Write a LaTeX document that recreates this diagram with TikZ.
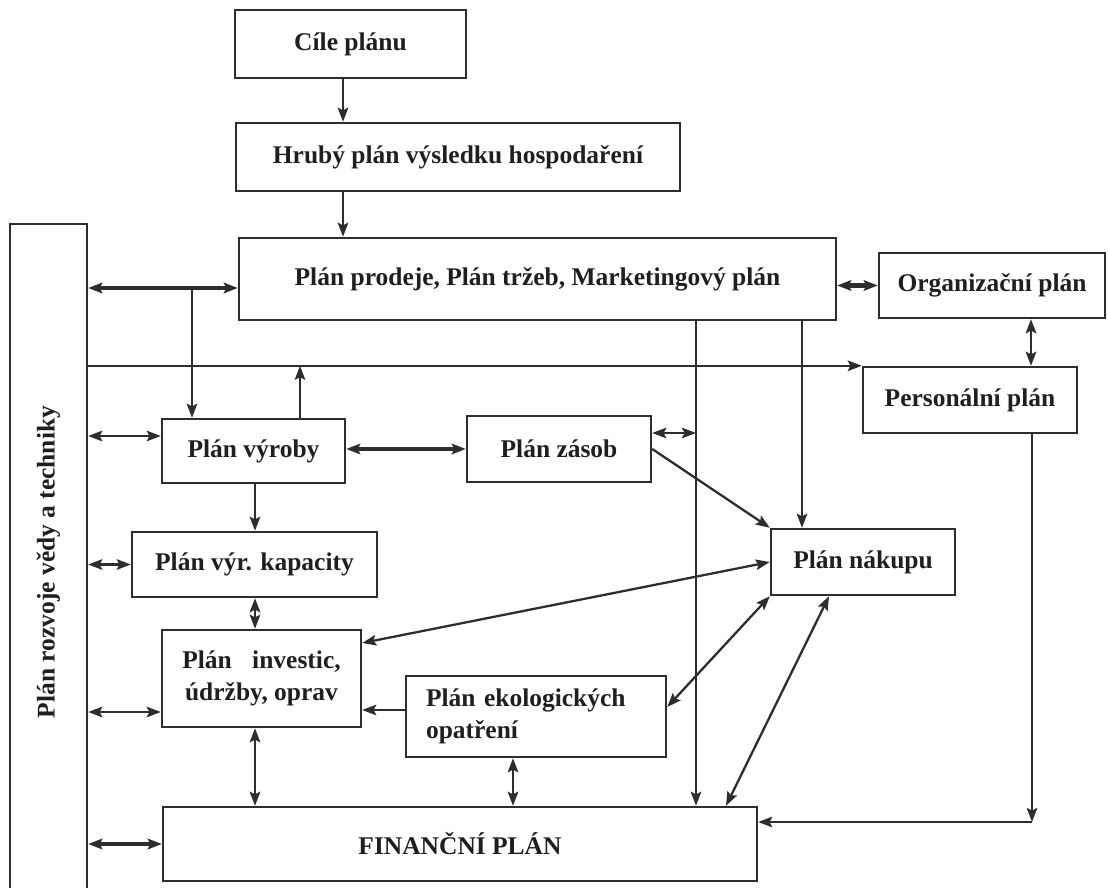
\documentclass[tikz,border=0pt]{standalone}
\usepackage{fontspec}
\setmainfont{Liberation Serif}
\usetikzlibrary{arrows.meta}
\definecolor{ink}{RGB}{45,45,45}

\tikzset{
  plan/.style={draw=ink, line width=1.4pt, inner sep=0pt, text=black!88,
    font=\bfseries\fontsize{14.5}{18}\selectfont},
  arr/.style={draw=ink, line width=1.3pt, -{Stealth[length=8pt,width=6pt,inset=1.5pt]}},
  dblarr/.style={draw=ink, line width=1.3pt,
    {Stealth[length=8pt,width=6pt,inset=1.5pt]}-{Stealth[length=8pt,width=6pt,inset=1.5pt]}},
  heavy/.style={line width=2.4pt},
  wire/.style={draw=ink, line width=1.3pt}
}

\begin{document}
\begin{tikzpicture}[x=0.02cm, y=-0.02cm]
  \useasboundingbox (0,0) rectangle (1108,888);
  %
  \coordinate (colA) at (343,0);
  \coordinate (colB) at (192,0);
  \coordinate (colC) at (300,0);
  \coordinate (colD) at (255,0);
  \coordinate (colE) at (696,0);
  \coordinate (colF) at (802,0);
  \coordinate (colG) at (513,0);
  \coordinate (colH) at (1031,0);
  \coordinate (colI) at (829,0);
  \coordinate (colJ) at (726,0);
  \coordinate (rowA) at (0,288);
  \coordinate (rowC) at (0,436);
  \coordinate (rowE) at (0,433);
  \coordinate (rowG) at (0,712);
  \coordinate (rowH) at (0,710);
  \coordinate (rowK) at (0,643);
  \coordinate (rowL) at (0,707);
  \coordinate (roh) at (1032,822);
  %
  \node[plan, minimum width=4.62cm, minimum height=1.36cm] (cile) at (350.5,44) {Cíle plánu};
  \node[plan, minimum width=8.88cm, minimum height=1.36cm] (hruby) at (458,157) {Hrubý plán výsledku hospodaření};
  \node[plan, minimum width=11.94cm, minimum height=1.64cm] (prodej) at (537.5,279) {Plán prodeje, Plán tržeb, Marketingový plán};
  \node[plan, minimum width=4.52cm, minimum height=1.30cm] (organiz) at (992,285.5) {Organizační plán};
  \node[plan, minimum width=4.28cm, minimum height=1.32cm] (personal) at (970,400) {Personální plán};
  \node[plan, rotate=90, minimum width=13.52cm, minimum height=1.54cm] (rozvoj) at (48.5,562) {Plán rozvoje vědy a techniky};
  \node[plan, minimum width=3.66cm, minimum height=1.28cm] (vyroba) at (253.5,451) {Plán výroby};
  \node[plan, minimum width=3.68cm, minimum height=1.32cm] (zasoby) at (559,449) {Plán zásob};
  \node[plan, minimum width=3.68cm, minimum height=1.32cm] (nakup) at (863,562) {Plán nákupu};
  \node[plan, minimum width=4.90cm, minimum height=1.30cm] (kapacita) at (254.5,564.5) {Plán výr. kapacity};
  \node[plan, minimum width=3.98cm, minimum height=1.94cm, align=center] (investice) at (261.5,678.5)
    {Plán\hspace{0.8em}investic,\\údržby, oprav};
  \node[plan, minimum width=5.20cm, minimum height=1.62cm, text width=4.4cm, align=left] (ekologie) at (536,716.5)
    {Plán ekologických\\opatření};
  \node[plan, minimum width=11.88cm, minimum height=1.48cm] (financni) at (460,844) {FINANČNÍ PLÁN};
  %
  \draw[arr] (cile.south -| colA) -- (hruby.north -| colA);
  \draw[arr] (hruby.south -| colA) -- (prodej.north -| colA);
  \draw[dblarr, heavy] (rozvoj.south |- rowA) -- (prodej.west |- rowA);
  \draw[arr] (colB |- rowA) -- (vyroba.north -| colB);
  \draw[dblarr, heavy] (prodej.east |- organiz.west) -- (organiz.west);
  \draw[dblarr] (organiz.south -| colH) -- (personal.north -| colH);
  \draw[arr] (rozvoj.south |- personal.north west) -- (personal.north west);
  \draw[arr] (vyroba.north -| colC) -- (colC |- personal.north west);
  %
  \draw[arr] (prodej.south -| colE) -- (financni.north -| colE);
  \draw[arr] (prodej.south -| colF) -- (nakup.north -| colF);
  \draw[dblarr] (rozvoj.south |- rowC) -- (vyroba.west |- rowC);
  \draw[dblarr, heavy] (vyroba.east |- zasoby.west) -- (zasoby.west);
  \draw[dblarr] (zasoby.east |- rowE) -- (colE |- rowE);
  \draw[arr] (zasoby.east) -- (nakup.north west);
  %
  \draw[arr] (vyroba.south -| colD) -- (kapacita.north -| colD);
  \draw[dblarr] (rozvoj.south |- kapacita.west) -- (kapacita.west);
  \draw[dblarr] (kapacita.south -| colD) -- (investice.north -| colD);
  \draw[dblarr] (rozvoj.south |- rowG) -- (investice.west |- rowG);
  \draw[dblarr] (investice.south -| colD) -- (financni.north -| colD);
  \draw[dblarr, heavy] (rozvoj.south |- financni.west) -- (financni.west);
  %
  \draw[dblarr] (nakup.west) -- (investice.east |- rowK);
  \draw[arr] (ekologie.west |- rowH) -- (investice.east |- rowH);
  \draw[dblarr] (ekologie.east |- rowL) -- (nakup.south west);
  \draw[dblarr] (ekologie.south -| colG) -- (financni.north -| colG);
  \draw[dblarr] (nakup.south -| colI) -- (financni.north -| colJ);
  \draw[arr] (personal.south -| roh) -- (roh);
  \draw[arr] (roh) -- (financni.east |- roh);
\end{tikzpicture}
\end{document}
